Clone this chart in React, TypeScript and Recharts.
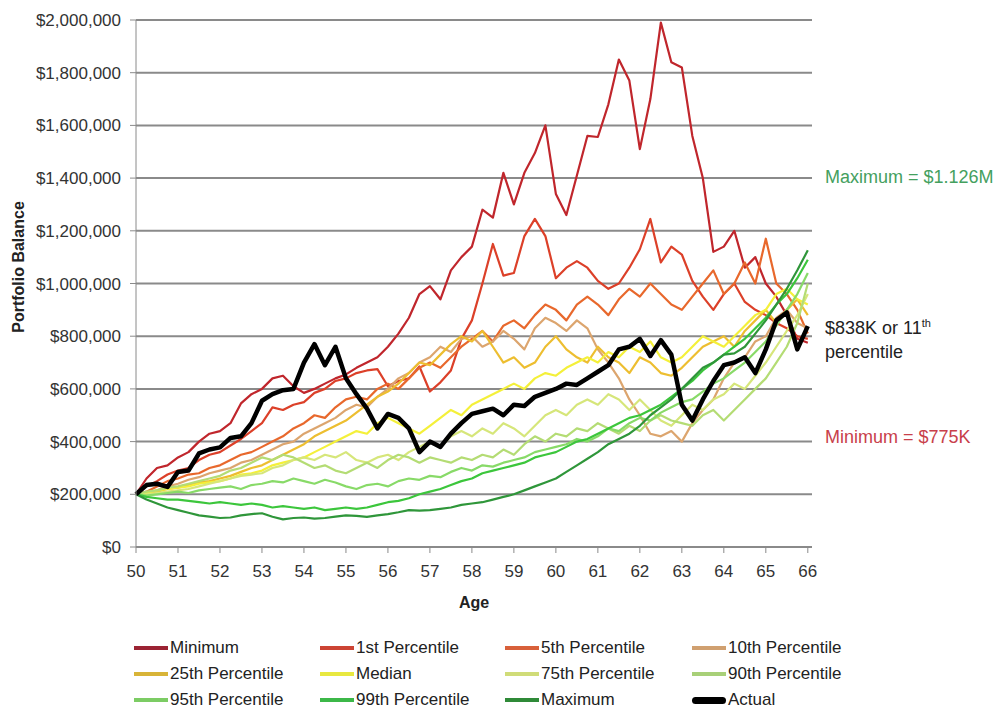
import { LineChart, Line, XAxis, YAxis, CartesianGrid } from "recharts";

// ages, one point per quarter year
const ages = [
  50, 50.25, 50.5, 50.75, 51, 51.25, 51.5, 51.75, 52, 52.25, 52.5, 52.75,
  53, 53.25, 53.5, 53.75, 54, 54.25, 54.5, 54.75, 55, 55.25, 55.5, 55.75,
  56, 56.25, 56.5, 56.75, 57, 57.25, 57.5, 57.75, 58, 58.25, 58.5, 58.75,
  59, 59.25, 59.5, 59.75, 60, 60.25, 60.5, 60.75, 61, 61.25, 61.5, 61.75,
  62, 62.25, 62.5, 62.75, 63, 63.25, 63.5, 63.75, 64, 64.25, 64.5, 64.75,
  65, 65.25, 65.5, 65.75, 66,
];

// balances in $K
const minimum = [
  200, 260, 300, 310, 340, 360, 400, 430, 440, 470, 545, 580,
  600, 640, 650, 610, 585, 600, 620, 640, 655, 680, 700, 720,
  760, 810, 870, 960, 990, 940, 1050, 1100, 1140, 1280, 1250, 1420,
  1300, 1420, 1495, 1600, 1340, 1260, 1410, 1560, 1556, 1680, 1850, 1770,
  1510, 1700, 1990, 1840, 1820, 1560, 1400, 1120, 1140, 1200, 1060, 1100,
  1000, 950, 880, 790, 775,
];
const pct1 = [
  200, 230, 250, 275, 290, 300, 330, 350, 360, 385, 410, 440,
  470, 530, 520, 540, 550, 585, 600, 630, 640, 660, 670, 675,
  610, 630, 640, 685, 590, 625, 670, 790, 860, 1000, 1150, 1030,
  1040, 1180, 1245, 1180, 1020, 1060, 1085, 1060, 1010, 980, 1000, 1060,
  1130, 1245, 1080, 1140, 1110, 1010, 950, 900, 960, 1000, 930, 900,
  880, 850, 830, 800, 790,
];
const pct5 = [
  200, 210, 230, 250, 260, 275, 280, 300, 310, 330, 350, 360,
  380, 400, 420, 450, 470, 500, 490, 530, 560, 570, 560, 600,
  620, 600, 640, 680, 700, 680, 720, 760, 790, 820, 780, 840,
  860, 830, 880, 920, 900, 860, 920, 950, 920, 880, 940, 980,
  950, 1000, 960, 920, 900, 950, 1000, 1050, 960, 1000, 1080, 1000,
  1170, 1000, 960, 900, 810,
];
const pct10 = [
  200, 205, 215, 230, 240, 255, 265, 280, 290, 300, 320, 330,
  350, 370, 390, 400, 430, 450, 470, 490, 520, 540, 530, 570,
  600, 640, 660, 700, 720, 760, 740, 790, 800, 760, 780, 820,
  790, 750, 830, 870, 850, 820, 860, 830, 750, 700, 640, 560,
  500, 430, 420, 440, 400, 470, 520, 560, 640, 700, 720, 780,
  800, 870, 900, 850, 830,
];
const pct25 = [
  200, 205, 210, 220, 225, 235, 245, 250, 260, 270, 285, 300,
  310, 330, 350, 370, 390, 420, 440, 460, 480, 510, 540, 570,
  590, 620, 660, 700, 690, 730, 770, 800, 780, 820, 760, 700,
  720, 680, 700, 760, 800, 750, 720, 700, 760, 720, 700, 660,
  720, 700, 660, 650, 680, 720, 760, 780, 800, 760, 820, 860,
  900, 850, 900, 940, 880,
];
const median = [
  200, 205, 215, 220, 225, 230, 240, 245, 250, 260, 275, 280,
  290, 310, 320, 330, 340, 360, 380, 400, 420, 440, 430, 470,
  490, 470, 450, 430, 460, 490, 520, 500, 540, 560, 580, 600,
  620, 600, 640, 660, 650, 680, 700, 720, 700, 740, 720, 760,
  740, 780, 720, 700, 720, 760, 800, 780, 760, 800, 840, 880,
  900, 960, 980, 940, 920,
];
const pct75 = [
  200, 200, 205, 210, 215, 220, 230, 240, 250, 260, 270, 275,
  280, 300, 310, 330, 340, 330, 350, 340, 360, 330, 320, 340,
  350, 330, 360, 380, 400, 380, 420, 440, 420, 450, 430, 470,
  450, 420, 460, 500, 520, 500, 540, 560, 540, 580, 560, 520,
  560, 520, 480, 460, 500, 540, 520, 560, 580, 620, 600, 650,
  700, 760, 820, 880, 960,
];
const pct90 = [
  200, 210, 215, 225, 230, 240, 250, 260, 270, 290, 300, 320,
  340, 330, 350, 340, 320, 300, 310, 290, 280, 300, 320, 300,
  330, 350, 340, 320, 340, 330, 320, 340, 330, 350, 340, 370,
  350, 390, 420, 400, 430, 420, 450, 440, 470, 450, 430, 460,
  440, 480, 500, 480, 470, 460, 500, 520, 480, 520, 560, 600,
  640, 700, 760, 850, 1000,
];
const pct95 = [
  200, 195, 200, 205, 210, 205, 215, 220, 225, 230, 220, 235,
  240, 250, 245, 260, 250, 240, 255, 245, 230, 220, 235, 240,
  230, 250, 260, 255, 270, 265, 285, 300, 290, 310, 305, 320,
  330, 340, 360, 370, 380, 390, 410, 400, 420, 450, 440, 470,
  490, 480, 510, 530, 550, 560, 590, 620, 640, 670, 700, 740,
  780, 840, 900, 960, 1040,
];
const pct99 = [
  200, 190, 185, 180, 180, 175, 170, 165, 170, 165, 160, 165,
  160, 150, 155, 150, 145, 150, 140, 145, 150, 145, 150, 160,
  170, 175, 185, 200, 210, 220, 235, 250, 260, 280, 290, 300,
  310, 320, 340, 350, 360, 380, 400, 410, 430, 450, 470, 490,
  500, 520, 540, 570, 600, 630, 670, 700, 730, 760, 790, 830,
  870, 920, 960, 1020, 1090,
];
const maximum = [
  200, 180, 165, 150, 140, 130, 120, 115, 110, 112, 120, 125,
  128, 115, 105, 110, 112, 108, 110, 115, 120, 118, 114, 120,
  125, 132, 140, 138, 140, 145, 150, 160, 165, 170, 180, 190,
  200, 215, 230, 245, 260, 285, 310, 335, 360, 390, 410, 430,
  460, 500, 530, 560, 600, 640, 680, 700, 730, 735, 760, 810,
  860, 920, 980, 1050, 1126,
];
const actual = [
  200, 235, 240, 228, 285, 290, 355, 370, 378, 414, 420, 470,
  555, 580, 595, 600, 700, 770, 690, 760, 640, 580, 525, 450,
  505, 490, 450, 360, 400, 380, 430, 470, 505, 515, 525, 500,
  540, 535, 570, 585, 600, 620, 615, 640, 665, 690, 750, 760,
  790, 725, 785, 730, 540, 480, 560, 630, 690, 700, 720, 660,
  750, 860, 890, 750, 838,
];

const xTicks = [50, 51, 52, 53, 54, 55, 56, 57, 58, 59, 60, 61, 62, 63, 64, 65, 66];
const yTicks = [0, 200, 400, 600, 800, 1000, 1200, 1400, 1600, 1800, 2000];

const series = [
  { key: "minimum", name: "Minimum", values: minimum, color: "#C0262C", legend: "#9B2333" },
  { key: "pct1", name: "1st Percentile", values: pct1, color: "#DC4029", legend: "#CC4434" },
  { key: "pct5", name: "5th Percentile", values: pct5, color: "#E8682C", legend: "#D8603A" },
  { key: "pct10", name: "10th Percentile", values: pct10, color: "#DCA56E", legend: "#D0A070" },
  { key: "pct25", name: "25th Percentile", values: pct25, color: "#EDBE30", legend: "#D8B438" },
  { key: "median", name: "Median", values: median, color: "#F4F03A", legend: "#E8E840" },
  { key: "pct75", name: "75th Percentile", values: pct75, color: "#D6E67A", legend: "#D0DC78" },
  { key: "pct90", name: "90th Percentile", values: pct90, color: "#B4DC74", legend: "#A8D078" },
  { key: "pct95", name: "95th Percentile", values: pct95, color: "#88DA68", legend: "#7CCC64" },
  { key: "pct99", name: "99th Percentile", values: pct99, color: "#3CC63C", legend: "#3CB848" },
  { key: "maximum", name: "Maximum", values: maximum, color: "#2F963A", legend: "#2F8A38" },
  { key: "actual", name: "Actual", values: actual, color: "#000000", legend: "#000000" },
];

const data = ages.map((age, i) => {
  const row: Record<string, number> = { age };
  series.forEach((s) => {
    row[s.key] = s.values[i];
  });
  return row;
});

const FONT = '"Liberation Sans", Arial, sans-serif';
const money = (v: number) => "$" + (v * 1000).toLocaleString("en-US");

const legendCols = [126, 312, 497, 684];
const legendRows = [640, 666, 692];

export default function App() {
  return (
    <div style={{ position: "relative", width: 994, height: 702, fontFamily: FONT, background: "#fff" }}>
      <LineChart
        width={994}
        height={702}
        data={data}
        margin={{ top: 12, right: 190, bottom: 102, left: 0 }}
      >
        <CartesianGrid vertical={false} stroke="#8a8a8a" strokeWidth={2} />
        <XAxis
          dataKey="age"
          type="number"
          domain={[50, 66.1]}
          ticks={xTicks}
          interval={0}
          height={61}
          tickSize={6}
          tickMargin={12}
          stroke="#8a8a8a"
          tick={{ fontSize: 17, fill: "#333", fontFamily: FONT }}
          label={{
            value: "Age",
            position: "insideBottom",
            offset: 0,
            fontSize: 16,
            fontWeight: "bold",
            fill: "#222",
            fontFamily: FONT,
          }}
        />
        <YAxis
          domain={[0, 2000]}
          ticks={yTicks}
          interval={0}
          width={128}
          tickSize={6}
          tickMargin={9}
          stroke="#8a8a8a"
          tickFormatter={money}
          tick={{ fontSize: 17, fill: "#333", fontFamily: FONT }}
        />
        {series.map((s) => (
          <Line
            key={s.key}
            dataKey={s.key}
            name={s.name}
            type="linear"
            stroke={s.color}
            strokeWidth={s.key === "actual" ? 4.5 : 2.2}
            strokeLinejoin="round"
            dot={false}
            activeDot={false}
            isAnimationActive={false}
          />
        ))}
      </LineChart>

      <div
        style={{
          position: "absolute",
          left: 11,
          top: 259,
          transform: "translate(-50%, -50%) rotate(-90deg)",
          whiteSpace: "nowrap",
          fontSize: 16,
          fontWeight: "bold",
          color: "#222",
        }}
      >
        Portfolio Balance
      </div>

      <div style={{ position: "absolute", left: 817, top: 158, fontSize: 18, lineHeight: "22px", color: "#44A05E", whiteSpace: "nowrap" }}>
        Maximum = $1.126M
      </div>
      <div style={{ position: "absolute", left: 817, top: 303, fontSize: 18, lineHeight: "24px", color: "#222", whiteSpace: "nowrap" }}>
        $838K or 11<sup style={{ fontSize: 11 }}>th</sup>
        <br />
        percentile
      </div>
      <div style={{ position: "absolute", left: 817, top: 418, fontSize: 18, lineHeight: "22px", color: "#C8404A", whiteSpace: "nowrap" }}>
        Minimum = $775K
      </div>

      {series.map((s, i) => (
        <div
          key={s.key}
          style={{
            position: "absolute",
            left: legendCols[i % 4],
            top: legendRows[Math.floor(i / 4)] - 11,
            height: 22,
            display: "flex",
            alignItems: "center",
            whiteSpace: "nowrap",
            fontSize: 17,
            color: "#222",
          }}
        >
          <span
            style={{
              display: "inline-block",
              width: 34,
              height: s.key === "actual" ? 7 : 4,
              borderRadius: s.key === "actual" ? 4 : 0,
              background: s.legend,
              marginRight: 2,
            }}
          />
          {s.name}
        </div>
      ))}
    </div>
  );
}
